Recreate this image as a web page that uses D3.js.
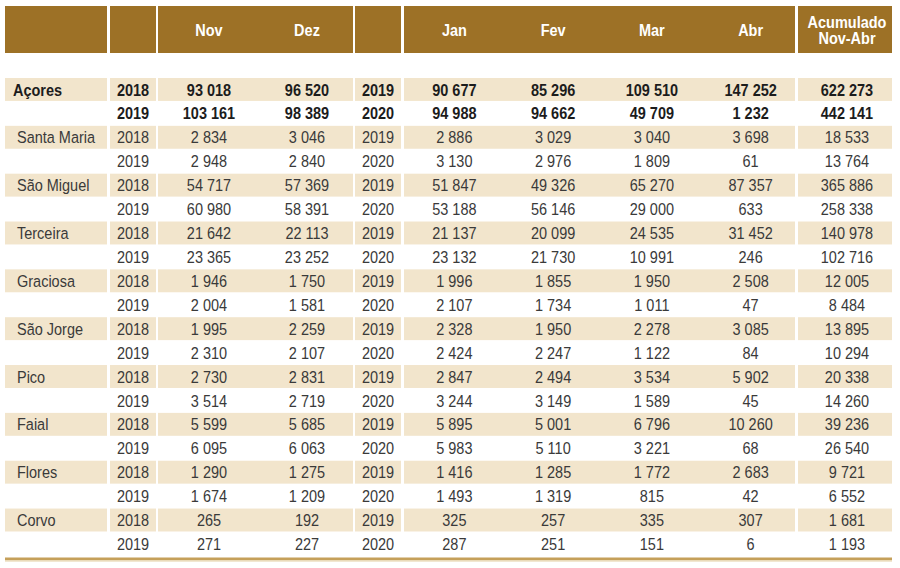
<!DOCTYPE html>
<html lang="pt">
<head>
<meta charset="utf-8">
<title>Açores - Nov-Abr</title>
<script src="https://d3js.org/d3.v7.min.js"></script>
<style>
  body { margin: 0; background: #fff; }
  text { font-family: "Liberation Sans", Arial, sans-serif; }
</style>
</head>
<body>
<script>
// data
const islands = ["Açores", "Santa Maria", "São Miguel", "Terceira", "Graciosa",
                 "São Jorge", "Pico", "Faial", "Flores", "Corvo"];
const yearsA = ["2018", "2019"];
const yearsB = ["2019", "2020"];
const monthsA = ["Nov", "Dez"];
const monthsB = ["Jan", "Fev", "Mar", "Abr"];

// two rows per island (first year, second year)
const nov  = [93018, 103161, 2834, 2948, 54717, 60980, 21642, 23365, 1946, 2004, 1995, 2310, 2730, 3514, 5599, 6095, 1290, 1674, 265, 271];
const dez  = [96520, 98389, 3046, 2840, 57369, 58391, 22113, 23252, 1750, 1581, 2259, 2107, 2831, 2719, 5685, 6063, 1275, 1209, 192, 227];
const jan  = [90677, 94988, 2886, 3130, 51847, 53188, 21137, 23132, 1996, 2107, 2328, 2424, 2847, 3244, 5895, 5983, 1416, 1493, 325, 287];
const fev  = [85296, 94662, 3029, 2976, 49326, 56146, 20099, 21730, 1855, 1734, 1950, 2247, 2494, 3149, 5001, 5110, 1285, 1319, 257, 251];
const mar  = [109510, 49709, 3040, 1809, 65270, 29000, 24535, 10991, 1950, 1011, 2278, 1122, 3534, 1589, 6796, 3221, 1772, 815, 335, 151];
const abr  = [147252, 1232, 3698, 61, 87357, 633, 31452, 246, 2508, 47, 3085, 84, 5902, 45, 10260, 68, 2683, 42, 307, 6];
const acum = [622273, 442141, 18533, 13764, 365886, 258338, 140978, 102716, 12005, 8484, 13895, 10294, 20338, 14260, 39236, 26540, 9721, 6552, 1681, 1193];

const w = 900, h = 568;
const headColor = "#9d7126";
const stripe = "#f2e5cc";
const stretch = "scale(1,1.12)"; // glyphs in the original are a bit taller

const fmt = d3.formatLocale({decimal: ",", thousands: "\u00a0", grouping: [3], currency: ["", ""]}).format(",d");

const svg = d3.select("body").append("svg")
  .attr("width", w)
  .attr("height", h);

// column blocks (header boxes and stripe segments)
const blocks = [[5, 107], [110, 156], [158, 353], [355, 401], [404, 795], [798, 892]];

// scales
const xA = d3.scaleBand().domain(monthsA).range([160, 356]);
const xB = d3.scaleBand().domain(monthsB).range([405, 800]);
const xAcum = 847, xYearA = 133, xYearB = 378;

const rows = d3.range(islands.length * 2);
const y = d3.scaleBand().domain(rows).range([78, 556.4]);

// header
svg.selectAll("rect.head")
  .data(blocks)
  .join("rect")
  .attr("class", "head")
  .attr("x", d => d[0])
  .attr("y", 6)
  .attr("width", d => d[1] - d[0])
  .attr("height", 47)
  .attr("fill", headColor);

const headText = svg.append("g")
  .attr("fill", "#fff")
  .attr("font-weight", "bold")
  .attr("font-size", "14.5px")
  .attr("text-anchor", "middle");

function headLabel(x, yy, s) {
  headText.append("g")
    .attr("transform", "translate(0," + yy + ") " + stretch)
    .append("text").attr("x", x).text(s);
}
monthsA.forEach(m => headLabel(xA(m) + xA.bandwidth() / 2, 36, m));
monthsB.forEach(m => headLabel(xB(m) + xB.bandwidth() / 2, 36, m));
headLabel(xAcum, 27.5, "Acumulado");
headLabel(xAcum, 44, "Nov-Abr");

// stripes on first-year rows
rows.filter(r => r % 2 === 0).forEach(r => {
  svg.selectAll(null)
    .data(blocks)
    .join("rect")
    .attr("x", d => d[0])
    .attr("y", y(r))
    .attr("width", d => d[1] - d[0])
    .attr("height", y.bandwidth() - 1)
    .attr("fill", stripe);
});

// cells
const cols = [
  {x: xA("Nov") + xA.bandwidth() / 2, v: nov},
  {x: xA("Dez") + xA.bandwidth() / 2, v: dez},
  {x: xB("Jan") + xB.bandwidth() / 2, v: jan},
  {x: xB("Fev") + xB.bandwidth() / 2, v: fev},
  {x: xB("Mar") + xB.bandwidth() / 2, v: mar},
  {x: xB("Abr") + xB.bandwidth() / 2, v: abr},
  {x: xAcum, v: acum}
];

const body = svg.append("g")
  .attr("font-size", "14.5px");

rows.forEach(r => {
  const isl = Math.floor(r / 2);
  const first = r % 2 === 0;
  const bold = isl === 0;
  const g = body.append("g")
    .attr("transform", "translate(0," + (y(r) + y.bandwidth() / 2 + 5.6) + ") " + stretch)
    .attr("fill", bold ? "#1c1c1c" : "#3a3a3a")
    .attr("font-weight", bold ? "bold" : "normal");

  if (first) {
    g.append("text")
      .attr("x", bold ? 13 : 17)
      .text(islands[isl]);
  }
  g.append("text").attr("x", xYearA).attr("text-anchor", "middle").text(yearsA[r % 2]);
  g.append("text").attr("x", xYearB).attr("text-anchor", "middle").text(yearsB[r % 2]);

  cols.forEach(c => {
    g.append("text")
      .attr("x", c.x)
      .attr("text-anchor", "middle")
      .text(fmt(c.v[r]));
  });
});

// bottom rule
svg.append("rect").attr("x", 5).attr("y", 557.5).attr("width", 887).attr("height", 2.6).attr("fill", "#c5a05a");
svg.append("rect").attr("x", 5).attr("y", 560.1).attr("width", 887).attr("height", 1.5).attr("fill", "#e8d7b3");
</script>
</body>
</html>
